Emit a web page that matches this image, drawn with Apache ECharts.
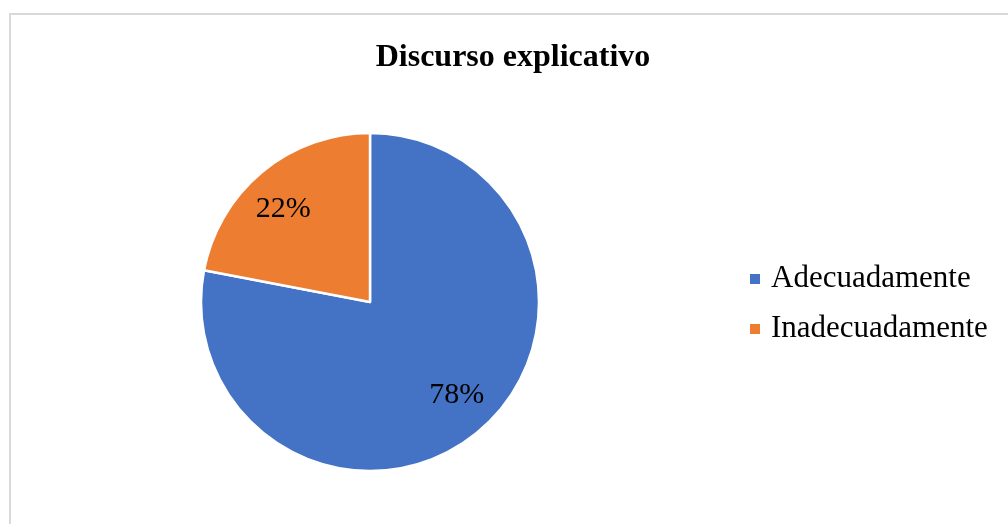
<!DOCTYPE html>
<html>
<head>
<meta charset="utf-8">
<script src="https://cdn.jsdelivr.net/npm/echarts@6/dist/echarts.min.js"></script>
<style>
html,body{margin:0;padding:0;background:#fff;overflow:hidden;}
#chart{width:1008px;height:524px;}
</style>
</head>
<body>
<div id="chart"></div>
<script>
const titleText = 'Discurso explicativo';
const categories = ['Adecuadamente', 'Inadecuadamente'];
const values = [78, 22];
const colors = ['#4472c4', '#ed7d31'];

const chart = echarts.init(document.getElementById('chart'), null, {renderer: 'canvas'});
const seriesData = categories.map((c, i) => ({name: c, value: values[i], itemStyle: {color: colors[i]}}));
const FONT = '"Liberation Serif", "Times New Roman", serif';
const R = 169;
chart.setOption({
  backgroundColor: '#fff',
  animation: false,
  graphic: [{
    type: 'rect', left: 9, top: 13, silent: true, z: -1,
    shape: {width: 1100, height: 600},
    style: {fill: '#fff', stroke: '#d9d9d9', lineWidth: 2}
  }],
  title: {
    text: titleText, left: 508, textAlign: 'center', top: 37,
    textStyle: {fontFamily: FONT, fontWeight: 'bold', fontSize: 32, color: '#000'}
  },
  legend: {
    orient: 'vertical', left: 745, top: 256,
    data: categories,
    icon: 'rect', itemWidth: 10, itemHeight: 10, itemGap: 14,
    itemStyle: {borderWidth: 0},
    textStyle: {fontFamily: FONT, fontSize: 31, color: '#000', lineHeight: 36, padding: [0, 0, 0, 6]}
  },
  series: [{
    type: 'pie', center: [370, 302], radius: [0, R],
    startAngle: 90, clockwise: true,
    data: seriesData,
    label: {show: false}, labelLine: {show: false},
    itemStyle: {borderColor: '#fff', borderWidth: 2.5},
    emphasis: {disabled: true}
  }, {
    type: 'pie', center: [370, 302], radius: [0, R * 1.47],
    startAngle: 93.4, clockwise: true, silent: true,
    data: seriesData.map(d => ({name: d.name, value: d.value, itemStyle: {color: 'rgba(0,0,0,0)', borderWidth: 0}})),
    label: {show: true, position: 'inside', formatter: '{d}%', fontFamily: FONT, fontSize: 30, color: '#000'},
    labelLine: {show: false},
    emphasis: {disabled: true}
  }]
});
</script>
</body>
</html>
